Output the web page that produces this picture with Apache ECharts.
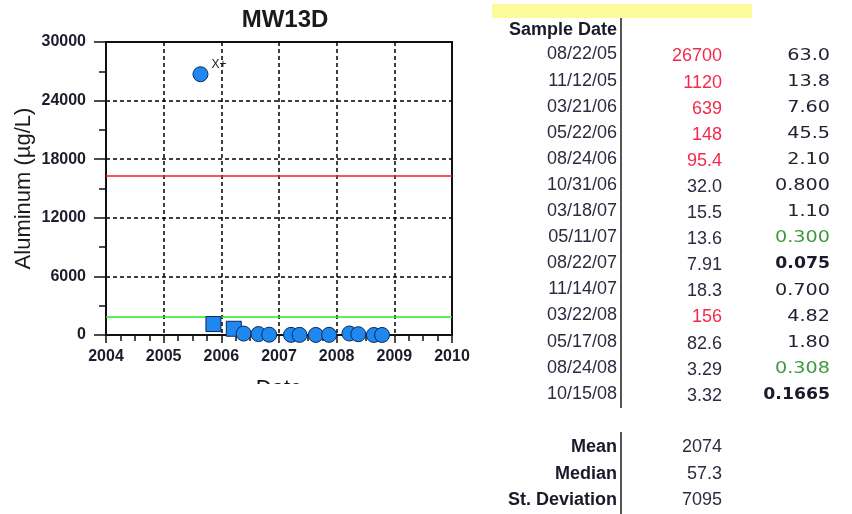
<!DOCTYPE html>
<html>
<head>
<meta charset="utf-8">
<script src="https://cdn.jsdelivr.net/npm/echarts@6/dist/echarts.min.js"></script>
<style>html,body{margin:0;padding:0;background:#fff}#c{width:852px;height:514px}</style>
</head>
<body>
<div id="c"></div>
<script>
// ---- data ----
const sampleDates = ['08/22/05','11/12/05','03/21/06','05/22/06','08/24/06','10/31/06','03/18/07','05/11/07','08/22/07','11/14/07','03/22/08','05/17/08','08/24/08','10/15/08'];
const aluminum = [26700, 1120, 639, 148, 95.4, 32.0, 15.5, 13.6, 7.91, 18.3, 156, 82.6, 3.29, 3.32];
const aluminumText = ['26700','1120','639','148','95.4','32.0','15.5','13.6','7.91','18.3','156','82.6','3.29','3.32'];
const thirdColumn = ['63.0','13.8','7.60','45.5','2.10','0.800','1.10','0.300','0.075','0.700','4.82','1.80','0.308','0.1665'];
const statLabels = ['Mean','Median','St. Deviation'];
const statValues = ['2074','57.3','7095'];
const limitLines = [16300, 1880];
const yTicks = [0, 6000, 12000, 18000, 24000, 30000];
const xTicks = [2004, 2005, 2006, 2007, 2008, 2009, 2010];
const pointLabels = ['X+'];

// ---- style lookups (kept separate from data) ----
const squareRows = [1, 2];
const redRows = [0, 1, 2, 3, 4, 10];
const greenRows = [7, 12];
const boldRows = [8, 13];

function decYear(s) {
  const [m, d, y] = s.split('/').map(Number);
  const yr = 2000 + y;
  const start = Date.UTC(yr, 0, 1), end = Date.UTC(yr + 1, 0, 1);
  return yr + (Date.UTC(yr, m - 1, d) - start) / (end - start);
}

const points = sampleDates.map((s, i) => {
  const item = { value: [decYear(s), aluminum[i]] };
  if (squareRows.includes(i)) item.symbol = 'rect';
  if (i < pointLabels.length) {
    item.label = { show: true, formatter: pointLabels[i], position: [19, -8], color: '#222', fontSize: 12, fontFamily: 'Liberation Sans, Arial' };
  }
  return item;
});

const graphics = [];
graphics.push({ type: 'rect', shape: { x: 492, y: 4, width: 260, height: 14 }, style: { fill: '#fbfb9c' }, silent: true });
graphics.push({ type: 'line', shape: { x1: 621, y1: 18, x2: 621, y2: 408 }, style: { stroke: '#555', lineWidth: 2 } });
graphics.push({ type: 'line', shape: { x1: 621, y1: 432, x2: 621, y2: 514 }, style: { stroke: '#555', lineWidth: 2 } });

function txt(text, x, y, opts) {
  const o = Object.assign({ font: '18px "Liberation Sans", Arial', fill: '#2c2c40', scaleX: 1 }, opts || {});
  graphics.push({
    type: 'text', x: x, y: y, scaleX: o.scaleX, z: 10,
    style: { text: text, x: 0, y: 0, font: o.font, fill: o.fill, align: 'right', verticalAlign: 'middle', textAlign: 'right', textVerticalAlign: 'middle' }
  });
}

txt('Sample Date', 617, 30, { font: 'bold 18px "Liberation Sans", Arial', fill: '#1a1a2a' });
const rowY0 = 54.5, rowStep = 26.1;
sampleDates.forEach((d, i) => {
  const y = rowY0 + i * rowStep;
  txt(d, 617, y);
  txt(aluminumText[i], 722, y + 2, { fill: redRows.includes(i) ? '#f42a4c' : '#2c2c40' });
  const bold = boldRows.includes(i);
  txt(thirdColumn[i], 830, y + 1, {
    font: (bold ? 'bold ' : '') + '16px "DejaVu Sans"',
    fill: greenRows.includes(i) ? '#3f9a3f' : (bold ? '#1a1a2a' : '#222232'),
    scaleX: bold ? 1.08 : 1.2
  });
});
const statY = [447, 474, 500];
statLabels.forEach((l, i) => {
  txt(l, 617, statY[i], { font: 'bold 18px "Liberation Sans", Arial', fill: '#1a1a2a' });
  txt(statValues[i], 722, statY[i], {});
});
// cover: the x-axis title is cut off at the bottom of the chart image
graphics.push({ type: 'rect', shape: { x: 100, y: 384, width: 380, height: 40 }, style: { fill: '#fff' }, z: 100, silent: true });

const chart = echarts.init(document.getElementById('c'), null, { renderer: 'canvas' });
chart.setOption({
  animation: false,
  backgroundColor: '#fff',
  title: {
    text: 'MW13D', left: 280, top: 3, textAlign: 'center',
    textStyle: { fontFamily: '"Liberation Sans", Arial', fontWeight: 'bold', fontSize: 24, color: '#1a1a1a' }
  },
  grid: { left: 106, right: 400, top: 42, bottom: 179, show: true, borderColor: '#111', borderWidth: 2, backgroundColor: 'transparent' },
  xAxis: {
    type: 'value', min: xTicks[0], max: xTicks[xTicks.length - 1], interval: 1,
    name: 'Date', nameLocation: 'middle', nameGap: 43,
    nameTextStyle: { fontFamily: '"Liberation Sans", Arial', fontSize: 22, color: '#111', verticalAlign: 'top' },
    axisLine: { lineStyle: { color: '#111', width: 2 } },
    axisTick: { length: 8, lineStyle: { color: '#111', width: 1.5 } },
    minorTick: { show: true, splitNumber: 4, length: 6, lineStyle: { color: '#111', width: 1.5 } },
    axisLabel: { margin: 14, fontFamily: '"Liberation Sans", Arial', fontSize: 16, fontWeight: 'bold', color: '#1c1c2c', formatter: v => String(v) },
    splitLine: { show: true, showMinLine: false, showMaxLine: false, lineStyle: { color: '#000', width: 1.5, type: [4, 3] } }
  },
  yAxis: {
    type: 'value', min: yTicks[0], max: yTicks[yTicks.length - 1], interval: yTicks[1] - yTicks[0],
    name: 'Aluminum (µg/L)', nameLocation: 'middle', nameGap: 71, nameRotate: 90,
    nameTextStyle: { fontFamily: '"Liberation Sans", Arial', fontSize: 22, color: '#1a1a1a' },
    axisLine: { show: true, lineStyle: { color: '#111', width: 2 } },
    axisTick: { show: true, length: 12, lineStyle: { color: '#111', width: 1.5 } },
    minorTick: { show: true, splitNumber: 2, length: 7, lineStyle: { color: '#111', width: 1.5 } },
    axisLabel: { margin: 20, fontFamily: '"Liberation Sans", Arial', fontSize: 16, fontWeight: 'bold', color: '#1c1c2c', formatter: v => String(v) },
    splitLine: { show: true, showMinLine: false, showMaxLine: false, lineStyle: { color: '#000', width: 1.5, type: [4, 3] } }
  },
  series: [{
    type: 'scatter',
    data: points,
    symbolSize: 15,
    itemStyle: { color: '#1e88f0', borderColor: '#0d2a55', borderWidth: 1, opacity: 1 },
    z: 5,
    markLine: {
      silent: true, symbol: 'none', label: { show: false },
      data: [
        { yAxis: limitLines[0], lineStyle: { color: '#ff1a1a', width: 1.5, type: 'solid' } },
        { yAxis: limitLines[1], lineStyle: { color: '#22ee22', width: 1.5, type: 'solid' } }
      ]
    }
  }],
  graphic: graphics
});
</script>
</body>
</html>
